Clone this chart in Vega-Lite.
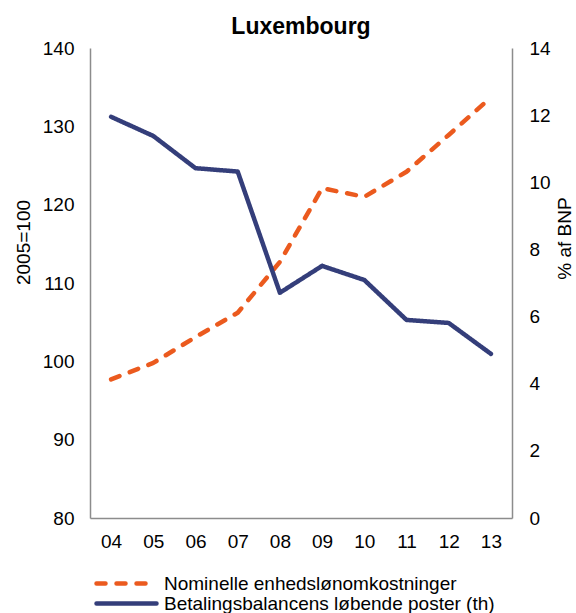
{
  "$schema": "https://vega.github.io/schema/vega-lite/v6.json",
  "width": 422,
  "height": 470,
  "autosize": {"type": "none"},
  "padding": {"left": 90, "top": 48, "right": 64, "bottom": 95},
  "background": "white",
  "config": {
    "font": "Liberation Sans",
    "view": {"stroke": null},
    "axis": {"grid": false, "ticks": false, "domainColor": "#8c8c8c", "domainWidth": 1.5, "labelColor": "#000000", "labelFontSize": 19, "titleFontSize": 19, "titleFontWeight": "normal", "titleColor": "#000000"}
  },
  "title": {"text": "Luxembourg", "fontSize": 23, "fontWeight": "bold", "color": "#000000", "frame": "group", "anchor": "middle", "baseline": "alphabetic", "offset": 14, "dy": 32},
  "data": {"values": [
    {"year": "04", "series": "Nominelle enhedslønomkostninger", "value": 97.7},
    {"year": "05", "series": "Nominelle enhedslønomkostninger", "value": 99.8},
    {"year": "06", "series": "Nominelle enhedslønomkostninger", "value": 103.1},
    {"year": "07", "series": "Nominelle enhedslønomkostninger", "value": 106.2},
    {"year": "08", "series": "Nominelle enhedslønomkostninger", "value": 112.7},
    {"year": "09", "series": "Nominelle enhedslønomkostninger", "value": 122.1},
    {"year": "10", "series": "Nominelle enhedslønomkostninger", "value": 121.0},
    {"year": "11", "series": "Nominelle enhedslønomkostninger", "value": 124.2},
    {"year": "12", "series": "Nominelle enhedslønomkostninger", "value": 128.9},
    {"year": "13", "series": "Nominelle enhedslønomkostninger", "value": 133.7},
    {"year": "04", "series": "Betalingsbalancens løbende poster (th)", "value": 11.95},
    {"year": "05", "series": "Betalingsbalancens løbende poster (th)", "value": 11.38},
    {"year": "06", "series": "Betalingsbalancens løbende poster (th)", "value": 10.42},
    {"year": "07", "series": "Betalingsbalancens løbende poster (th)", "value": 10.32},
    {"year": "08", "series": "Betalingsbalancens løbende poster (th)", "value": 6.71},
    {"year": "09", "series": "Betalingsbalancens løbende poster (th)", "value": 7.51},
    {"year": "10", "series": "Betalingsbalancens løbende poster (th)", "value": 7.09},
    {"year": "11", "series": "Betalingsbalancens løbende poster (th)", "value": 5.90},
    {"year": "12", "series": "Betalingsbalancens løbende poster (th)", "value": 5.81},
    {"year": "13", "series": "Betalingsbalancens løbende poster (th)", "value": 4.89}
  ]},
  "encoding": {
    "x": {"field": "year", "type": "ordinal", "sort": null, "scale": {"type": "point", "padding": 0.5},
      "axis": {"title": null, "labelAngle": 0, "labelPadding": 14}},
    "color": {"field": "series", "type": "nominal",
      "scale": {"domain": ["Nominelle enhedslønomkostninger", "Betalingsbalancens løbende poster (th)"], "range": ["#EB5A1E", "#343E7A"]},
      "legend": {"title": null, "orient": "none", "legendX": 27, "legendY": 526, "labelFontSize": 19, "labelColor": "#000000", "labelLimit": 450, "symbolType": "M-6,0H6", "symbolSize": 100, "symbolStrokeWidth": 4.5, "rowPadding": 0, "labelOffset": 28,
        "encode": {"symbols": {"update": {"strokeCap": {"value": "round"}}}}},
      "sort": null},
    "strokeDash": {"field": "series", "type": "nominal",
      "scale": {"domain": ["Nominelle enhedslønomkostninger", "Betalingsbalancens løbende poster (th)"], "range": [[9, 11], [1, 0]]},
      "legend": {"title": null, "orient": "none", "legendX": 27, "legendY": 526, "labelFontSize": 19, "labelColor": "#000000", "labelLimit": 450, "symbolType": "M-6,0H6", "symbolSize": 100, "symbolStrokeWidth": 4.5, "rowPadding": 0, "labelOffset": 28,
        "encode": {"symbols": {"update": {"strokeCap": {"value": "round"}}}}},
      "sort": null}
  },
  "layer": [
    {
      "transform": [{"filter": "datum.series === 'Nominelle enhedslønomkostninger'"}],
      "mark": {"type": "line", "strokeWidth": 4.5, "strokeCap": "round", "strokeJoin": "round"},
      "encoding": {
        "y": {"field": "value", "type": "quantitative", "scale": {"domain": [80, 140], "nice": false, "zero": false},
          "axis": {"orient": "left", "values": [80, 90, 100, 110, 120, 130, 140], "title": "2005=100", "labelPadding": 16, "titleAngle": 270, "titleBaseline": "alphabetic", "titleAlign": "center", "titleX": -61, "titleY": 194}}
      }
    },
    {
      "transform": [{"filter": "datum.series === 'Betalingsbalancens løbende poster (th)'"}],
      "mark": {"type": "line", "strokeWidth": 4.5, "strokeCap": "round", "strokeJoin": "round"},
      "encoding": {
        "y": {"field": "value", "type": "quantitative", "scale": {"domain": [0, 14], "nice": false},
          "axis": {"orient": "right", "values": [0, 2, 4, 6, 8, 10, 12, 14], "title": "% af BNP", "labelPadding": 17, "titleAngle": 270, "titleBaseline": "alphabetic", "titleAlign": "center", "titleX": 58, "titleY": 190}}
      }
    }
  ],
  "resolve": {"scale": {"y": "independent"}}
}
